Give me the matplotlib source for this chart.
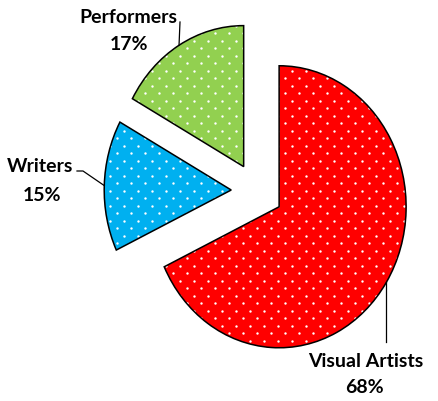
import numpy as np
import matplotlib.pyplot as plt

labels = ['Visual Artists', 'Writers', 'Performers']
shares = [68, 15, 17]
colors = ['#FF0000', '#00B0F0', '#92D050']
explode = [0.21, 0.2, 0.2]

plt.rcParams['font.family'] = 'Lato'

fig = plt.figure(figsize=(4.38, 4.02), dpi=100)
ax = fig.add_axes([0, 0, 1, 1])

# pixel layout of the pie (Excel stretches it a little vertically)
cx, cy, rx, ry = 256.6, 191.9, 127.0, 141.0
def px(x, y):
    return (x - cx) / rx, (cy - y) / ry

kw = dict(startangle=90, counterclock=False, explode=explode, radius=1)
wedges, _ = ax.pie(shares, colors=colors, wedgeprops=dict(linewidth=0), **kw)

# dotted fill pattern: staggered grid of small white dots
gx, gy = [], []
for i, y in enumerate(np.arange(4, 402, 7.5)):
    off = 0 if i % 2 == 0 else 7
    for x in np.arange(5 + off, 438, 14):
        d = px(x, y)
        gx.append(d[0])
        gy.append(d[1])
for w in wedges:
    sc = ax.scatter(gx, gy, s=3, color='white', linewidths=0, zorder=2)
    sc.set_clip_path(w)

ax.pie(shares, wedgeprops=dict(fill=False, edgecolor='black', linewidth=1.1, zorder=3), **kw)

ax.set_aspect('auto')
ax.set_xlim(px(0, 0)[0], px(438, 0)[0])
ax.set_ylim(px(0, 402)[1], px(0, 0)[1])
ax.axis('off')

def arc_point(w):
    t = np.deg2rad((w.theta1 + w.theta2) / 2)
    return w.center[0] + w.r * np.cos(t), w.center[1] + w.r * np.sin(t)

tk = dict(fontsize=14, fontweight='bold', ha='center', va='center', color='black')

# Visual Artists
a = arc_point(wedges[0])
ax.plot([a[0], a[0]], [a[1], px(0, 343)[1]], color='black', lw=0.9)
ax.text(*px(366, 362), labels[0], **tk)
ax.text(*px(364, 388), f'{shares[0]}%', **tk)

# Writers
a = arc_point(wedges[1])
e1, e2 = px(83, 172), px(77, 172)
ax.plot([a[0], e1[0], e2[0]], [a[1], e1[1], e2[1]], color='black', lw=0.9)
ax.text(*px(40, 167), labels[1], **tk)
ax.text(*px(42, 196), f'{shares[1]}%', **tk)

# Performers
a = arc_point(wedges[2])
e1 = px(180, 23)
ax.plot([a[0], e1[0]], [a[1], e1[1]], color='black', lw=0.9)
ax.text(*px(128, 17), labels[2], **tk)
ax.text(*px(129, 45), f'{shares[2]}%', **tk)

fig.savefig('out.png', dpi=100)
